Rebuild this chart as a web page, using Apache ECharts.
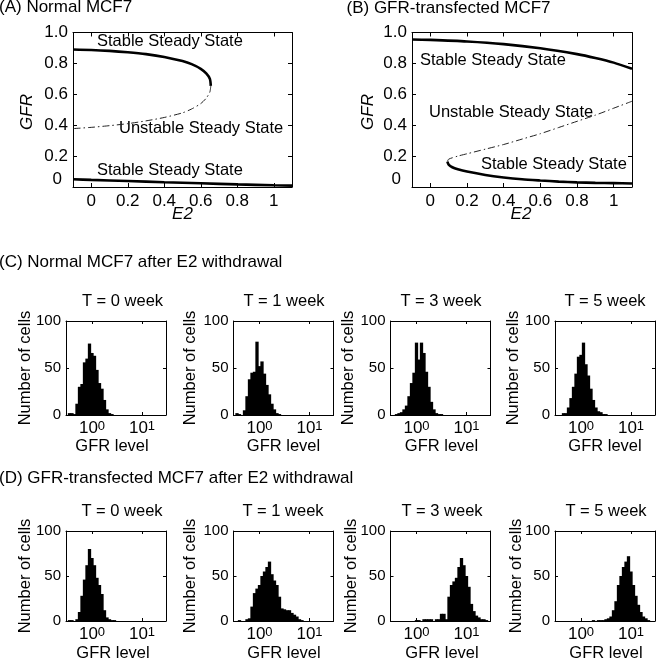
<!DOCTYPE html>
<html><head><meta charset="utf-8">
<script src="https://cdn.jsdelivr.net/npm/echarts@6/dist/echarts.min.js"></script>
<style>html,body{margin:0;padding:0;background:#fff}#c{width:657px;height:660px}</style>
</head><body><div id="c"></div>
<script>
// ---------- Panel A (Normal MCF7) bifurcation branches ----------
const aUpperE2  = [-0.1, 0, 0.1, 0.2, 0.3, 0.4, 0.5, 0.55, 0.6, 0.63, 0.65, 0.655];
const aUpperGFR = [0.89, 0.887, 0.881, 0.872, 0.86, 0.842, 0.815, 0.795, 0.765, 0.735, 0.70, 0.655];
const aUnstE2   = [0.655, 0.65, 0.63, 0.6, 0.55, 0.5, 0.4, 0.3, 0.2, 0.1, 0, -0.1];
const aUnstGFR  = [0.655, 0.615, 0.575, 0.54, 0.505, 0.48, 0.45, 0.428, 0.41, 0.397, 0.386, 0.378];
const aLowerE2  = [-0.1, 0, 0.2, 0.4, 0.6, 0.8, 1.0, 1.1];
const aLowerGFR = [0.05, 0.046, 0.039, 0.031, 0.024, 0.017, 0.011, 0.009];
// ---------- Panel B (GFR-transfected MCF7) ----------
const bUpperE2  = [-0.1, 0, 0.2, 0.4, 0.6, 0.8, 0.9, 1.0, 1.1];
const bUpperGFR = [0.955, 0.952, 0.942, 0.925, 0.898, 0.86, 0.835, 0.805, 0.765];
const bUnstE2   = [0.093, 0.1, 0.15, 0.2, 0.3, 0.4, 0.5, 0.6, 0.7, 0.8, 0.9, 1.0, 1.1];
const bUnstGFR  = [0.165, 0.18, 0.2, 0.215, 0.245, 0.275, 0.31, 0.345, 0.385, 0.425, 0.465, 0.51, 0.555];
const bLowerE2  = [0.093, 0.1, 0.12, 0.15, 0.2, 0.3, 0.4, 0.5, 0.6, 0.7, 0.8, 0.9, 1.0, 1.1];
const bLowerGFR = [0.165, 0.145, 0.128, 0.115, 0.1, 0.078, 0.062, 0.05, 0.042, 0.035, 0.03, 0.027, 0.025, 0.023];
// ---------- tick labels ----------
const e2Ticks = [0, 0.2, 0.4, 0.6, 0.8, 1];
const e2TickLabels = ['0', '0.2', '0.4', '0.6', '0.8', '1'];
const gfrTicks = [0, 0.2, 0.4, 0.6, 0.8, 1];
const gfrTickLabels = ['0', '0.2', '0.4', '0.6', '0.8', '1.0'];
const histYTicks = [0, 50, 100];
const histXTicks = [0, 1];            // log10(GFR level)
const histXTickExp = ['0', '1'];      // shown as 10^0, 10^1
const histTitles = ['T = 0 week', 'T = 1 week', 'T = 3 week', 'T = 5 week'];
// ---------- histogram bins (log10 GFR level, bin centres) ----------
const binLog10 = [-0.5, -0.45, -0.4, -0.35, -0.3, -0.25, -0.2, -0.15, -0.1, -0.05,
  0, 0.05, 0.1, 0.15, 0.2, 0.25, 0.3, 0.35, 0.4, 0.45,
  0.5, 0.55, 0.6, 0.65, 0.7, 0.75, 0.8, 0.85, 0.9, 0.95,
  1.0, 1.05, 1.1, 1.15, 1.2, 1.25, 1.3, 1.35, 1.4, 1.45];
// (C) Normal MCF7 after E2 withdrawal
const countsC0 = [0,2,2,1,12,30,33,56,60,76,66,63,48,34,28,16,6,2,1,0, 0,0,0,0,0,0,0,0,0,0, 0,0,0,0,0,0,0,0,0,0];
const countsC1 = [0,2,1,0,5,20,38,45,46,78,52,57,44,32,22,12,6,2,1,0, 0,0,0,0,0,0,0,0,0,0, 0,0,0,0,0,0,0,0,0,0];
const countsC3w = [0,0,1,2,3,6,10,20,34,45,77,59,77,66,46,30,14,6,2,1, 1,0,0,0,0,0,0,0,0,0, 0,0,0,0,0,0,0,0,0,0];
const countsC5w = [0,0,0,2,2,8,18,30,44,62,64,77,54,42,28,16,8,4,3,1, 1,0,0,0,0,0,0,0,0,0, 0,0,0,0,0,0,0,0,0,0];
// (D) GFR-transfected MCF7 after E2 withdrawal
const countsD0 = [0,1,1,0,2,10,28,46,62,80,70,62,48,40,30,12,4,2,1,1, 0,0,0,0,0,0,0,0,0,0, 0,0,0,0,0,0,0,0,0,0];
const countsD1 = [0,0,1,0,0,2,3,16,31,36,40,50,55,60,66,52,45,40,27,14, 13,12,12,9,7,5,2,1,0,0, 0,0,0,0,0,0,0,0,0,0];
const countsD3w = [0,0,0,0,0,0,0,0,0,0,1,1,0,2,2,2,2,0,2,2, 8,8,2,27,40,44,48,60,70,62, 50,38,19,11,6,4,2,2,1,0];
const countsD5w = [0,0,0,0,0,0,0,0,0,0,0,0,0,0,0,1,0,1,1,1, 2,3,5,12,22,40,50,60,66,72, 55,40,28,18,10,5,3,1,0,0];

const FONT = '"Liberation Sans", Arial, Helvetica, sans-serif';
const zip = (xs, ys) => xs.map((x, i) => [x, ys[i]]);

const grids = [], xAxes = [], yAxes = [], series = [], graphics = [];

function addGrid(rect, xCfg, yCfg) {
  const g = grids.length;
  grids.push(Object.assign({show: false, containLabel: false}, rect));
  const base = {gridIndex: g, type: 'value', splitLine: {show: false},
    axisLine: {show: true, onZero: false, lineStyle: {color: '#000', width: 1}}};
  const xi = xAxes.length, yi = yAxes.length;
  xAxes.push(Object.assign({}, base, xCfg.main, {position: 'bottom'}));
  xAxes.push(Object.assign({}, base, xCfg.main, {position: 'top', axisLabel: {show: false}}));
  yAxes.push(Object.assign({}, base, yCfg.main, {position: 'left'}));
  yAxes.push(Object.assign({}, base, yCfg.main, {position: 'right', axisLabel: {show: false}}));
  return {xi, yi};
}

function text(x, y, s, o) {
  o = o || {};
  graphics.push({type: 'text', x: x, y: y, rotation: o.rot || 0, silent: true,
    style: {text: s, fill: '#000', fontSize: o.size || 16.5, fontFamily: FONT,
      fontStyle: o.italic ? 'italic' : 'normal',
      align: o.align || 'left', verticalAlign: 'middle'}});
}

// ---------- bifurcation panels ----------
function bifPanel(rect, branches) {
  const tick = {show: true, inside: true, length: 4, lineStyle: {color: '#000'}};
  const ax = addGrid(rect, {
    main: {min: -0.1, max: 1.1,
      axisTick: Object.assign({customValues: e2Ticks}, tick),
      axisLabel: {customValues: e2Ticks, color: '#000', fontSize: 17, fontFamily: FONT, margin: 6,
        formatter: v => e2TickLabels[e2Ticks.indexOf(v)]}}
  }, {
    main: {min: 0, max: 1,
      axisTick: Object.assign({customValues: gfrTicks}, tick),
      axisLabel: {customValues: gfrTicks, color: '#000', fontSize: 17, fontFamily: FONT, margin: 5,
        formatter: v => v === 0 ? '{z|0}' : gfrTickLabels[gfrTicks.indexOf(v)],
        rich: {z: {fontSize: 17, fontFamily: FONT, color: '#000', padding: [0, 6, 16, 0]}}}}
  });
  branches.forEach(b => {
    series.push({type: 'line', xAxisIndex: ax.xi, yAxisIndex: ax.yi, data: zip(b.x, b.y),
      showSymbol: false, symbol: 'none', smooth: 0.25, silent: true, animation: false,
      lineStyle: b.stable ? {color: '#000', width: 2.6} : {color: '#222', width: 1, type: [7, 3, 1.5, 3]}});
  });
}

bifPanel({left: 73, top: 32.5, width: 219, height: 154.5}, [
  {x: aUpperE2, y: aUpperGFR, stable: true},
  {x: aUnstE2, y: aUnstGFR, stable: false},
  {x: aLowerE2, y: aLowerGFR, stable: true}]);
bifPanel({left: 412, top: 32.5, width: 220, height: 154.5}, [
  {x: bUpperE2, y: bUpperGFR, stable: true},
  {x: bUnstE2, y: bUnstGFR, stable: false},
  {x: bLowerE2, y: bLowerGFR, stable: true}]);

// ---------- histograms ----------
const halfBin = (binLog10[1] - binLog10[0]) / 2;
function histPanel(rect, counts) {
  const tick = {show: true, inside: true, length: 3, lineStyle: {color: '#000'}};
  const ax = addGrid(rect, {
    main: {min: -0.52, max: 1.48,
      axisTick: Object.assign({customValues: histXTicks}, tick),
      axisLabel: {customValues: histXTicks, color: '#000', fontFamily: FONT, margin: 5,
        formatter: v => '{b|10}{s|' + histXTickExp[histXTicks.indexOf(v)] + '}',
        rich: {b: {fontSize: 17, fontFamily: FONT, color: '#000', lineHeight: 17, verticalAlign: 'bottom'},
               s: {fontSize: 13, fontFamily: FONT, color: '#000', lineHeight: 13, verticalAlign: 'top', padding: [0, 0, 8, 0]}}}}
  }, {
    main: {min: 0, max: 100,
      axisTick: Object.assign({customValues: histYTicks}, tick),
      axisLabel: {customValues: histYTicks, color: '#000', fontSize: 15, fontFamily: FONT, margin: 5}}
  });
  series.push({type: 'custom', xAxisIndex: ax.xi, yAxisIndex: ax.yi, silent: true, animation: false,
    clip: true,
    data: binLog10.map((c, i) => [c, counts[i]]),
    renderItem: function (params, api) {
      const c = api.value(0), n = api.value(1);
      if (!n) return null;
      const p0 = api.coord([c - halfBin, n]);
      const p1 = api.coord([c + halfBin, 0]);
      return {type: 'rect',
        shape: {x: p0[0] - 0.4, y: p0[1], width: p1[0] - p0[0] + 0.8, height: p1[1] - p0[1]},
        style: {fill: '#000', stroke: null, lineWidth: 0}};
    }});
}

const histLefts = [66, 233.5, 390.5, 555];
const cCounts = [countsC0, countsC1, countsC3w, countsC5w];
const dCounts = [countsD0, countsD1, countsD3w, countsD5w];
histLefts.forEach((l, i) => histPanel({left: l, top: 321, width: 100, height: 94}, cCounts[i]));
histLefts.forEach((l, i) => histPanel({left: l, top: 531, width: 100, height: 90}, dCounts[i]));

// ---------- text ----------
text(-1, 7.5, '(A) Normal MCF7', {size: 17});
text(346.5, 8, '(B) GFR-transfected MCF7', {size: 17});
text(-1, 262, '(C) Normal MCF7 after E2 withdrawal', {size: 17});
text(-1, 478, '(D) GFR-transfected MCF7 after E2 withdrawal', {size: 17});

text(27.5, 112, 'GFR', {italic: true, align: 'center', rot: Math.PI / 2, size: 17});
text(182.5, 214, 'E2', {italic: true, align: 'center', size: 17});
text(368.5, 112, 'GFR', {italic: true, align: 'center', rot: Math.PI / 2, size: 17});
text(521, 214, 'E2', {italic: true, align: 'center', size: 17});

text(97, 41, 'Stable Steady State');
text(119, 128, 'Unstable Steady State');
text(97, 170, 'Stable Steady State');
text(420, 60, 'Stable Steady State');
text(429, 112, 'Unstable Steady State');
text(481, 164, 'Stable Steady State');

const cTitleX = [122.5, 284, 441, 605];
const dTitleX = [122, 283, 442, 606];
const cYNameX = [25.5, 190.5, 348.5, 513.5];
const dYNameX = [25.5, 190.5, 351, 516];
const cXNameX = [112, 283.5, 441.5, 605];
const dXNameX = [113, 284, 442, 606];
for (let i = 0; i < 4; i++) {
  text(cTitleX[i], 301, histTitles[i], {align: 'center'});
  text(dTitleX[i], 511, histTitles[i], {align: 'center'});
  text(cYNameX[i], 368, 'Number of cells', {align: 'center', rot: Math.PI / 2});
  text(dYNameX[i], 576, 'Number of cells', {align: 'center', rot: Math.PI / 2});
  text(cXNameX[i], 446, 'GFR level', {align: 'center'});
  text(dXNameX[i], 653, 'GFR level', {align: 'center'});
}

const chart = echarts.init(document.getElementById('c'), null, {renderer: 'canvas'});
chart.setOption({
  animation: false,
  backgroundColor: '#fff',
  textStyle: {fontFamily: FONT},
  grid: grids, xAxis: xAxes, yAxis: yAxes, series: series,
  graphic: {elements: graphics}
});
</script></body></html>
